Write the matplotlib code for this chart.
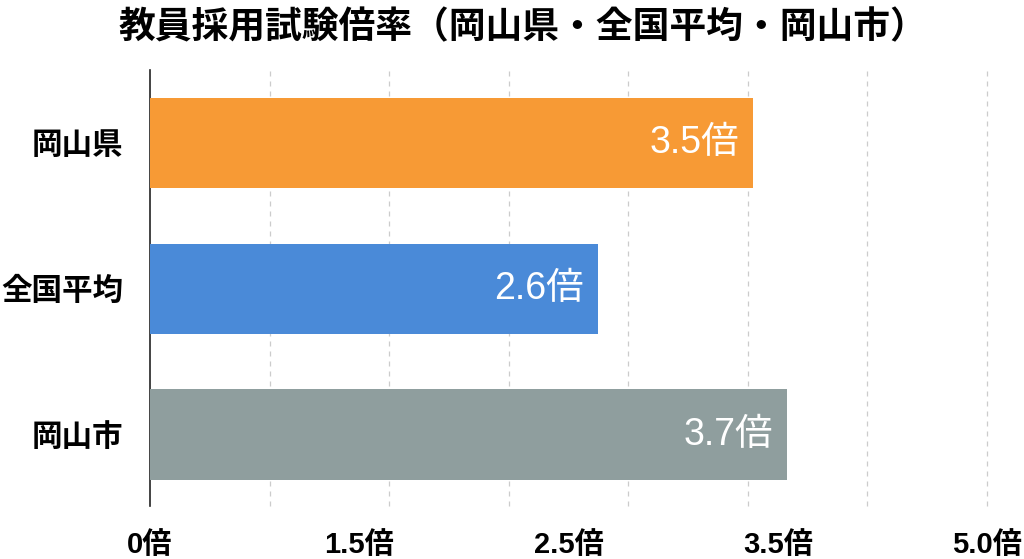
import numpy as np
import matplotlib
matplotlib.use("Agg")
import matplotlib.pyplot as plt

plt.rcParams['font.family'] = ['Liberation Sans', 'Noto Sans CJK JP', 'DejaVu Sans']

title = "教員採用試験倍率（岡山県・全国平均・岡山市）"
categories = ["岡山県", "全国平均", "岡山市"]
values = [3.5, 2.6, 3.7]
value_labels = ["3.5倍", "2.6倍", "3.7倍"]
colors = ["#F79A35", "#4A8AD8", "#8F9E9E"]
tick_labels = ["0倍", "1.5倍", "2.5倍", "3.5倍", "5.0倍"]
x_max = 4.86

fig = plt.figure(figsize=(10.24, 5.59), dpi=100)
ax = fig.add_axes([150/1024, 53/559, 837/1024, 436/559])

y = np.arange(len(categories))
ax.barh(y, values, height=0.62, color=colors, zorder=3)

for yi, v, lab in zip(y, values, value_labels):
    ax.text(v - 0.08, yi, lab, ha='right', va='center', color='white',
            fontsize=27, zorder=4)

ax.set_xlim(0, x_max)
ax.set_ylim(2.49, -0.5)
ax.set_yticks(y)
ax.set_yticklabels(categories, fontsize=22, fontweight='bold')
ax.tick_params(axis='y', length=0, pad=19)

ax.set_xticks(np.linspace(0, x_max, len(tick_labels)))
ax.set_xticklabels(tick_labels, fontsize=21, fontweight='bold')
ax.tick_params(axis='x', length=0, pad=18)

for gx in np.linspace(0, x_max, 8)[1:]:
    ax.axvline(gx, color='#cccccc', linestyle=(0, (4, 4)), linewidth=0.9,
               zorder=1, clip_on=False)

for s in ['top', 'right', 'bottom']:
    ax.spines[s].set_visible(False)
ax.spines['left'].set_color('#222222')
ax.spines['left'].set_linewidth(1.2)

fig.text(523/1024, 1 - 28/559, title, ha='center', va='center', fontsize=26.5,
         fontweight='bold', family=['Noto Sans CJK JP'])

fig.savefig("out.png", dpi=100)
